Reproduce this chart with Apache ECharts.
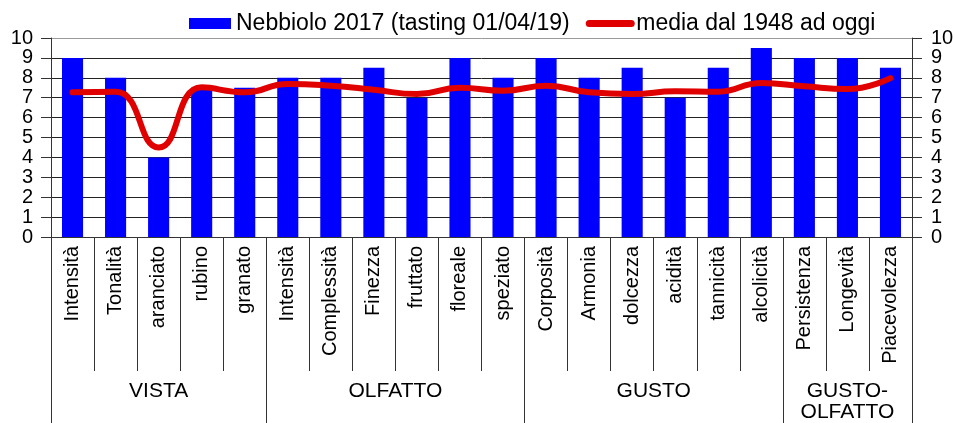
<!DOCTYPE html>
<html>
<head>
<meta charset="utf-8">
<script src="https://cdn.jsdelivr.net/npm/echarts@6/dist/echarts.min.js"></script>
<style>html,body{margin:0;padding:0;background:#fff;}#c{width:953px;height:423px;}</style>
</head>
<body>
<div id="c"></div>
<script>
const categories = ["Intensità","Tonalità","aranciato","rubino","granato","Intensità","Complessità","Finezza","fruttato","floreale","speziato","Corposità","Armonia","dolcezza","acidità","tannicità","alcolicità","Persistenza","Longevità","Piacevolezza"];
const barValues = [9,8,4,7.5,7.5,8,8,8.5,7,9,8,9,8,8.5,7,8.5,9.5,9,9,8.5];
const lineValues = [7.27,7.3,4.5,7.52,7.27,7.69,7.6,7.4,7.18,7.5,7.35,7.6,7.27,7.18,7.32,7.3,7.74,7.57,7.44,7.98];
const groupNames = ["VISTA","OLFATTO","GUSTO","GUSTO-\nOLFATTO"];
const groupSizes = [5,6,6,3];
const yTicks = [0,1,2,3,4,5,6,7,8,9,10];
const barName = "Nebbiolo 2017 (tasting 01/04/19)";
const lineName = "media dal 1948 ad oggi";

const bounds = [0];
groupSizes.forEach(s => bounds.push(bounds[bounds.length-1] + s));
const centers = groupSizes.map((s, i) => bounds[i] + s / 2);

const font = "Liberation Sans, Arial, sans-serif";
const chart = echarts.init(document.getElementById('c'), null, {renderer: 'canvas'});
const splitColors = yTicks.map((t, i) => i === yTicks.length - 1 ? '#9a9a9a' : '#222');

const yLabel = (margin) => ({
  fontSize: 20, color: '#000', margin: margin, fontFamily: font
});

chart.setOption({
  animation: false,
  textStyle: {fontFamily: font},
  grid: {left: 51, right: 41, top: 38, bottom: 186, outerBoundsMode: 'none', containLabel: false},
  legend: {
    top: 7, left: 184, itemGap: 16, itemWidth: 42, itemHeight: 11,
    textStyle: {fontSize: 23, color: '#000', fontFamily: font},
    data: [
      {name: barName, icon: 'rect'},
      {name: lineName, itemStyle: {opacity: 0}, lineStyle: {width: 7, cap: 'round', color: '#e00000'}}
    ]
  },
  xAxis: [
    {
      type: 'category', data: categories, position: 'bottom',
      axisLine: {lineStyle: {color: '#333', width: 1}},
      axisTick: {show: true, interval: 0, length: 134, lineStyle: {color: '#333'}},
      axisLabel: {interval: 0, rotate: 90, fontSize: 20, color: '#000', margin: 9, fontFamily: font}
    },
    {
      type: 'value', min: 0, max: bounds[bounds.length-1], position: 'bottom', offset: 134,
      axisLine: {show: false},
      splitLine: {show: false},
      axisTick: {show: false},
      axisLabel: {
        customValues: centers, fontSize: 21, color: '#000', margin: 10, lineHeight: 21, fontFamily: font,
        formatter: v => { const i = centers.indexOf(v); return i >= 0 ? groupNames[i] : ''; }
      }
    },
    {
      type: 'category', data: categories, position: 'bottom', offset: 134,
      axisLine: {show: false},
      axisLabel: {show: false},
      splitLine: {show: false},
      axisTick: {show: true, length: 52, lineStyle: {color: '#333'},
        interval: (idx) => bounds.indexOf(idx) >= 0 || idx === undefined}
    }
  ],
  yAxis: [
    {
      type: 'value', min: 0, max: 10, interval: 1, position: 'left',
      axisLine: {show: true, lineStyle: {color: '#333'}},
      axisTick: {show: true, length: 10, lineStyle: {color: '#333'}},
      axisLabel: yLabel(18),
      splitLine: {show: true, lineStyle: {color: splitColors, width: 1}}
    },
    {
      type: 'value', min: 0, max: 10, interval: 1, position: 'right',
      axisLine: {show: true, lineStyle: {color: '#333'}},
      axisTick: {show: true, length: 10, lineStyle: {color: '#333'}},
      axisLabel: yLabel(19),
      splitLine: {show: false}
    }
  ],
  series: [
    {
      name: barName, type: 'bar', data: barValues, barWidth: '49%',
      itemStyle: {color: '#0000ff'}, z: 2
    },
    {
      name: lineName, type: 'line', data: lineValues, smooth: 0.5,
      showSymbol: false, symbol: 'none',
      lineStyle: {color: '#e00000', width: 6, cap: 'round'}, itemStyle: {color: '#e00000'}, z: 3
    }
  ]
});
</script>
</body>
</html>
